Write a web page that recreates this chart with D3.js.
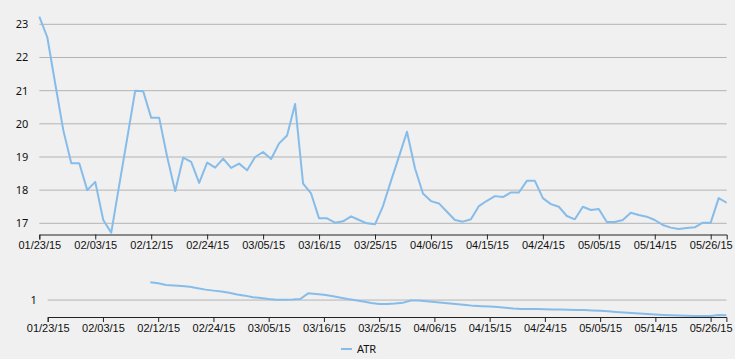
<!DOCTYPE html>
<html>
<head>
<meta charset="utf-8">
<script src="https://cdn.jsdelivr.net/npm/d3@7"></script>
<style>
  html, body { margin: 0; padding: 0; background: #f0f0f0; }
  svg { display: block; font-family: "Segoe UI", "Noto Sans", sans-serif; }
  .grid line { stroke: #b4b4b4; stroke-width: 1; }
  .axis path, .axis line { stroke: #222; }
  .axis text { fill: #111; font-size: 11px; }
  .ylab { fill: #111; font-size: 11px; }
</style>
</head>
<body>
<div class="chart-wrapper"></div>
<script>
// trading days (categories)
const dates = [
  '01/23/15','01/26/15','01/27/15','01/28/15','01/29/15','01/30/15',
  '02/02/15','02/03/15','02/04/15','02/05/15','02/06/15','02/09/15','02/10/15','02/11/15','02/12/15','02/13/15',
  '02/17/15','02/18/15','02/19/15','02/20/15','02/23/15','02/24/15','02/25/15','02/26/15','02/27/15',
  '03/02/15','03/03/15','03/04/15','03/05/15','03/06/15','03/09/15','03/10/15','03/11/15','03/12/15','03/13/15',
  '03/16/15','03/17/15','03/18/15','03/19/15','03/20/15','03/23/15','03/24/15','03/25/15','03/26/15','03/27/15',
  '03/30/15','03/31/15','04/01/15','04/02/15','04/06/15','04/07/15','04/08/15','04/09/15','04/10/15',
  '04/13/15','04/14/15','04/15/15','04/16/15','04/17/15','04/20/15','04/21/15','04/22/15','04/23/15','04/24/15',
  '04/27/15','04/28/15','04/29/15','04/30/15','05/01/15','05/04/15','05/05/15','05/06/15','05/07/15','05/08/15',
  '05/11/15','05/12/15','05/13/15','05/14/15','05/15/15','05/18/15','05/19/15','05/20/15','05/21/15','05/22/15',
  '05/26/15','05/27/15','05/28/15'
];

const tickLabels = ['01/23/15','02/03/15','02/12/15','02/24/15','03/05/15','03/16/15','03/25/15',
  '04/06/15','04/15/15','04/24/15','05/05/15','05/14/15','05/26/15'];

const price = [
  23.23, 22.61, 21.2, 19.81, 18.81, 18.81, 18.0, 18.25, 17.1, 16.72,
  18.15, 19.57, 21.0, 20.98, 20.18, 20.18, 19.0, 17.97, 18.98, 18.85,
  18.22, 18.83, 18.68, 18.95, 18.67, 18.8, 18.6, 19.0, 19.15, 18.94,
  19.41, 19.65, 20.6, 18.2, 17.9, 17.15, 17.15, 17.02, 17.06, 17.21,
  17.1, 17.0, 16.97, 17.52, 18.28, 19.01, 19.76, 18.66, 17.9, 17.67,
  17.6, 17.35, 17.1, 17.05, 17.12, 17.52, 17.68, 17.82, 17.79, 17.93,
  17.93, 18.28, 18.28, 17.76, 17.58, 17.5, 17.22, 17.12, 17.5, 17.4,
  17.43, 17.04, 17.04, 17.1, 17.32, 17.25, 17.2, 17.1, 16.95, 16.87,
  16.83, 16.86, 16.88, 17.02, 17.02, 17.76, 17.62
];

const atr = [
  null, null, null, null, null, null, null, null, null, null, null, null, null,
  1.354, 1.334, 1.30, 1.29, 1.28, 1.266, 1.236, 1.208, 1.188, 1.17,
  1.144, 1.112, 1.088, 1.056, 1.04, 1.02, 1.006, 1.008, 1.01, 1.02,
  1.134, 1.12, 1.104, 1.08, 1.05, 1.02, 0.994, 0.97, 0.94, 0.92,
  0.92, 0.93, 0.944, 0.99, 0.992, 0.976, 0.96, 0.944, 0.93, 0.914,
  0.90, 0.884, 0.876, 0.87, 0.86, 0.846, 0.832, 0.824, 0.824, 0.82,
  0.816, 0.812, 0.81, 0.806, 0.802, 0.80, 0.794, 0.788, 0.776, 0.764,
  0.752, 0.74, 0.73, 0.72, 0.712, 0.704, 0.698, 0.692, 0.688, 0.684,
  0.682, 0.684, 0.704, 0.696
];

const priceTicks = [17, 18, 19, 20, 21, 22, 23];
const atrTicks = [1];

const width = 735, height = 359;
const lineColor = '#86bce9';

const svg = d3.select('.chart-wrapper')
  .append('svg')
  .attr('width', width)
  .attr('height', height);

const tickIdx = tickLabels.map(t => dates.indexOf(t));

function panel(opts) {
  const x = d3.scaleLinear()
    .domain([0, dates.length - 1])
    .range([opts.left, opts.right]);

  const vals = opts.values.filter(v => v != null);
  const y = d3.scaleLinear()
    .domain(d3.extent(vals))
    .range([opts.bottom, opts.top]);

  const g = svg.append('g');

  g.append('g')
    .attr('class', 'grid')
    .selectAll('line')
    .data(opts.ticks)
    .enter()
    .append('line')
    .attr('x1', opts.left)
    .attr('x2', opts.right)
    .attr('y1', d => y(d))
    .attr('y2', d => y(d));

  g.selectAll('.ylab')
    .data(opts.ticks)
    .enter()
    .append('text')
    .attr('class', 'ylab')
    .attr('x', opts.left - 11)
    .attr('y', d => y(d))
    .attr('dy', '0.35em')
    .attr('text-anchor', 'end')
    .text(d => d);

  const axis = d3.axisBottom(x)
    .tickValues(tickIdx)
    .tickFormat(i => dates[i])
    .tickSizeOuter(0)
    .tickSize(5)
    .tickPadding(2);

  g.append('g')
    .attr('class', 'axis')
    .attr('transform', `translate(0,${opts.axisY})`)
    .call(axis);

  const line = d3.line()
    .defined(d => d != null)
    .x((d, i) => x(i))
    .y(d => y(d));

  g.append('path')
    .datum(opts.values)
    .attr('d', line)
    .attr('fill', 'none')
    .attr('stroke', lineColor)
    .attr('stroke-width', 2)
    .attr('stroke-linejoin', 'round');
}

panel({ values: price, ticks: priceTicks, left: 39.3, right: 726.7, top: 16.7, bottom: 232.6, axisY: 234.5 });
panel({ values: atr, ticks: atrTicks, left: 47.7, right: 726.4, top: 282.3, bottom: 316, axisY: 317 });

// legend
const legend = svg.append('g').attr('transform', 'translate(341,349)');
legend.append('line')
  .attr('x1', 0).attr('x2', 11)
  .attr('stroke', lineColor)
  .attr('stroke-width', 2);
legend.append('text')
  .attr('x', 16)
  .attr('dy', '0.35em')
  .attr('fill', '#111')
  .style('font-size', '11px')
  .text('ATR');
</script>
</body>
</html>
